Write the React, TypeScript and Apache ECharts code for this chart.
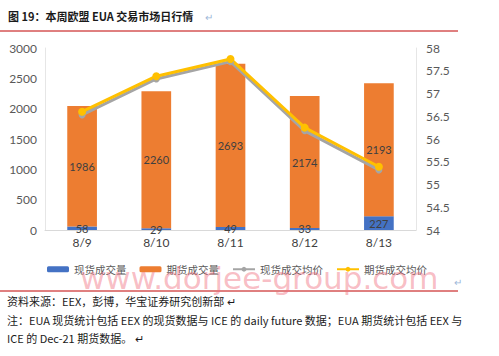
import React, { useEffect, useRef } from "react";
import * as echarts from "echarts";

const categories = ["8/9", "8/10", "8/11", "8/12", "8/13"];
const spotVolume = [58, 29, 49, 33, 227];
const futuresVolume = [1986, 2260, 2693, 2174, 2193];
const spotAvgPrice = [56.53, 57.32, 57.7, 56.18, 55.32];
const futuresAvgPrice = [56.6, 57.38, 57.76, 56.25, 55.39];

const seriesNames = ["现货成交量", "期货成交量", "现货成交均价", "期货成交均价"];

const titleText = "图 19：本周欧盟 EUA 交易市场日行情";
const sourceText = "资料来源：EEX，彭博，华宝证券研究创新部";
const noteLine1 = "注：EUA 现货统计包括 EEX 的现货数据与 ICE 的 daily future 数据；EUA 期货统计包括 EEX 与";
const noteLine2 = "ICE 的 Dec-21 期货数据。";
const watermark = "www.dorjee-group.com";

const CJK = "'Noto Sans CJK SC', 'Liberation Sans', sans-serif";
const NUM = "Lato, 'Open Sans', sans-serif";

export default function App() {
  const ref = useRef<HTMLDivElement>(null);
  useEffect(() => {
    const chart = echarts.init(ref.current!, undefined, { renderer: "svg" });
    const labelStyle = { show: true, position: "inside" as const, color: "#404040", fontSize: 11, fontFamily: NUM };
    chart.setOption({
      animation: false,
      backgroundColor: "#ffffff",
      grid: { left: 45, right: 83, top: 48, bottom: 126 },
      legend: {
        data: seriesNames,
        left: 42,
        top: 259,
        itemWidth: 22,
        itemHeight: 6,
        itemGap: 13,
        textStyle: { color: "#595959", fontSize: 10.5, fontFamily: CJK },
      },
      xAxis: {
        type: "category",
        data: categories,
        axisLine: { lineStyle: { color: "#D9D9D9" } },
        axisTick: { show: false },
        axisLabel: { color: "#404040", fontSize: 12, fontFamily: NUM, margin: 6 },
      },
      yAxis: [
        {
          type: "value",
          min: 0,
          max: 3000,
          interval: 500,
          axisLine: { show: true, lineStyle: { color: "#E6E6E6" } },
          axisTick: { show: false },
          splitLine: { show: false },
          axisLabel: {
            color: "#595959",
            fontSize: 12,
            fontFamily: NUM,
            margin: 8,
            formatter: (v: number) => String(v),
          },
        },
        {
          type: "value",
          min: 54,
          max: 58,
          interval: 0.5,
          axisLine: { show: true, lineStyle: { color: "#E6E6E6" } },
          axisTick: { show: false },
          splitLine: { show: false },
          axisLabel: { color: "#595959", fontSize: 12, fontFamily: NUM, margin: 10 },
        },
      ],
      series: [
        {
          name: seriesNames[0],
          type: "bar",
          stack: "vol",
          data: spotVolume,
          barWidth: "40%",
          itemStyle: { color: "#4472C4" },
          label: labelStyle,
        },
        {
          name: seriesNames[1],
          type: "bar",
          stack: "vol",
          data: futuresVolume,
          barWidth: "40%",
          itemStyle: { color: "#ED7D31" },
          label: labelStyle,
        },
        {
          name: seriesNames[2],
          type: "line",
          yAxisIndex: 1,
          data: spotAvgPrice,
          symbol: "circle",
          symbolSize: 7,
          lineStyle: { color: "#A5A5A5", width: 3 },
          itemStyle: { color: "#A5A5A5" },
        },
        {
          name: seriesNames[3],
          type: "line",
          yAxisIndex: 1,
          data: futuresAvgPrice,
          symbol: "circle",
          symbolSize: 8,
          lineStyle: { color: "#FFC000", width: 3 },
          itemStyle: { color: "#FFC000" },
        },
      ],
      graphic: [
        {
          type: "text",
          left: 8,
          top: 10,
          style: { text: titleText, fill: "#1a1a1a", font: `bold 11px ${CJK}` },
        },
        {
          type: "text",
          left: 205,
          top: 11,
          style: { text: "↵", fill: "#9DB8D9", font: `10px ${CJK}` },
        },
        {
          type: "line",
          shape: { x1: 0, y1: 31, x2: 458, y2: 31 },
          style: { stroke: "#C00000", lineWidth: 1 },
        },
        {
          type: "text",
          left: 80,
          top: 262,
          z: 100,
          style: { text: watermark, fill: "rgba(240,110,125,0.45)", font: `31px 'DejaVu Sans', sans-serif` },
        },
        {
          type: "text",
          left: 454,
          top: 276,
          style: { text: "↵", fill: "#9DB8D9", font: `10px ${CJK}` },
        },
        {
          type: "line",
          shape: { x1: 0, y1: 291, x2: 458, y2: 291 },
          style: { stroke: "#C00000", lineWidth: 1 },
        },
        {
          type: "text",
          left: 7,
          top: 295,
          style: { text: sourceText + " ↵", fill: "#1a1a1a", font: `11px ${CJK}` },
        },
        {
          type: "text",
          left: 7,
          top: 314,
          style: { text: noteLine1, fill: "#1a1a1a", font: `11px ${CJK}` },
        },
        {
          type: "text",
          left: 7,
          top: 332,
          style: { text: noteLine2 + " ↵", fill: "#1a1a1a", font: `11px ${CJK}` },
        },
      ],
    });
    return () => chart.dispose();
  }, []);
  return (
    <div
      ref={ref}
      style={{ position: "fixed", left: 0, top: 0, width: 499, height: 356 }}
    />
  );
}
